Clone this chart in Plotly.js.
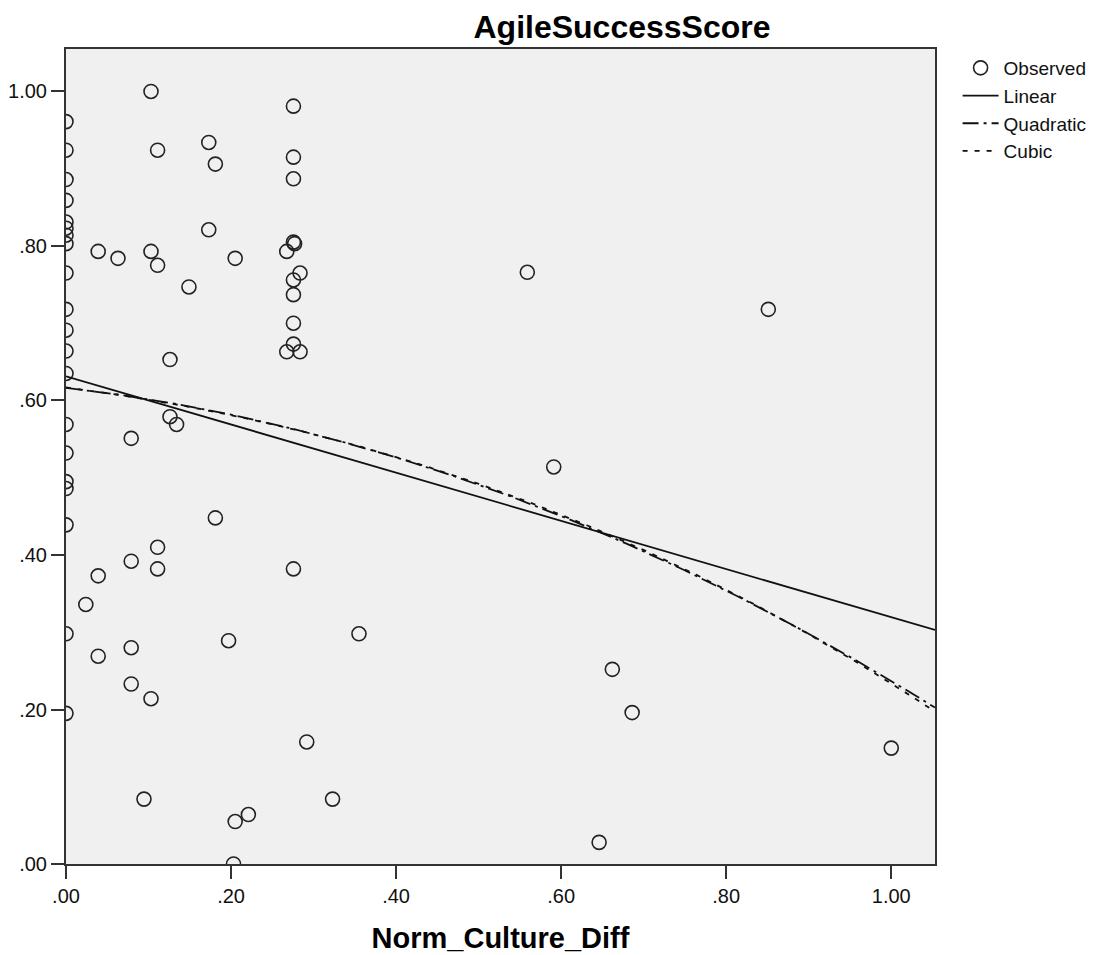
<!DOCTYPE html>
<html>
<head>
<meta charset="utf-8">
<script src="https://cdn.plot.ly/plotly-3.0.1.min.js"></script>
<style>
  html, body { margin: 0; padding: 0; background: #ffffff; }
  #chart { width: 1105px; height: 955px; }
</style>
</head>
<body>
<div id="chart"></div>
<script>
// Observed data: Norm_Culture_Diff (x) vs AgileSuccessScore (y)
const normCultureDiff = [
  0, 0, 0, 0, 0, 0, 0, 0, 0, 0, 0, 0, 0, 0, 0, 0, 0, 0, 0, 0,
  0.024, 0.039, 0.039, 0.039, 0.063, 0.079, 0.079, 0.079, 0.079, 0.0945,
  0.103, 0.103, 0.103, 0.111, 0.111, 0.111, 0.111, 0.126, 0.126, 0.134,
  0.149, 0.173, 0.173, 0.181, 0.181, 0.197, 0.205, 0.205, 0.203, 0.221,
  0.2675, 0.2675, 0.2756, 0.2756, 0.2756, 0.2756, 0.2770, 0.2756, 0.2756, 0.2756,
  0.2756, 0.2756, 0.2836, 0.2836, 0.2917, 0.323, 0.355,
  0.559, 0.591, 0.646, 0.662, 0.686, 0.851, 1.000
];
const agileSuccessScore = [
  0.961, 0.924, 0.886, 0.859, 0.831, 0.823, 0.814, 0.803, 0.765, 0.718,
  0.691, 0.664, 0.635, 0.569, 0.532, 0.495, 0.486, 0.439, 0.298, 0.195,
  0.336, 0.793, 0.373, 0.269, 0.784, 0.551, 0.392, 0.280, 0.233, 0.084,
  1.000, 0.793, 0.214, 0.924, 0.775, 0.410, 0.382, 0.653, 0.579, 0.569,
  0.747, 0.934, 0.821, 0.906, 0.448, 0.289, 0.784, 0.055, 0.000, 0.064,
  0.793, 0.663, 0.981, 0.915, 0.887, 0.805, 0.803, 0.756, 0.737, 0.700,
  0.673, 0.382, 0.765, 0.663, 0.158, 0.084, 0.298,
  0.766, 0.514, 0.028, 0.252, 0.196, 0.718, 0.150
];
const xTickVals = [0, 0.2, 0.4, 0.6, 0.8, 1.0];
const xTickText = [".00", ".20", ".40", ".60", ".80", "1.00"];
const yTickVals = [0, 0.2, 0.4, 0.6, 0.8, 1.0];
const yTickText = [".00", ".20", ".40", ".60", ".80", "1.00"];
const seriesNames = ["Observed", "Linear", "Quadratic", "Cubic"];
const xRange = [0, 1.053];
const yRange = [0, 1.055];

// Least-squares polynomial fit (as the curve-estimation procedure does)
function polyFit(xs, ys, deg) {
  const n = deg + 1;
  const A = [];
  for (let i = 0; i < n; i++) {
    A.push(new Array(n + 1).fill(0));
  }
  for (let k = 0; k < xs.length; k++) {
    for (let i = 0; i < n; i++) {
      for (let j = 0; j < n; j++) A[i][j] += Math.pow(xs[k], i + j);
      A[i][n] += ys[k] * Math.pow(xs[k], i);
    }
  }
  for (let c = 0; c < n; c++) {
    let p = c;
    for (let r = c + 1; r < n; r++) if (Math.abs(A[r][c]) > Math.abs(A[p][c])) p = r;
    [A[c], A[p]] = [A[p], A[c]];
    for (let r = 0; r < n; r++) {
      if (r === c) continue;
      const f = A[r][c] / A[c][c];
      for (let j = c; j <= n; j++) A[r][j] -= f * A[c][j];
    }
  }
  return A.map((row, i) => row[n] / row[i]);
}
function evalPoly(coef, x) {
  return coef.reduce((s, c, i) => s + c * Math.pow(x, i), 0);
}
const grid = [];
for (let i = 0; i <= 200; i++) grid.push(xRange[0] + (xRange[1] - xRange[0]) * i / 200);
const fits = [1, 2, 3].map(d => {
  const c = polyFit(normCultureDiff, agileSuccessScore, d);
  return grid.map(x => evalPoly(c, x));
});

const font = "Liberation Sans, Arial, sans-serif";
const traces = [
  {
    type: "scatter", mode: "markers", name: seriesNames[0],
    x: normCultureDiff, y: agileSuccessScore,
    marker: { symbol: "circle-open", size: 14, color: "#222", line: { width: 1.6, color: "#222" } },
    cliponaxis: true
  },
  {
    type: "scatter", mode: "lines", name: seriesNames[1], x: grid, y: fits[0],
    line: { color: "#111", width: 1.8, dash: "solid" }
  },
  {
    type: "scatter", mode: "lines", name: seriesNames[2], x: grid, y: fits[1],
    line: { color: "#111", width: 1.8, dash: "16px,5px,3px,5px" }
  },
  {
    type: "scatter", mode: "lines", name: seriesNames[3], x: grid, y: fits[2],
    line: { color: "#111", width: 1.8, dash: "5px,7px" }
  }
];

const layout = {
  width: 1105, height: 955,
  margin: { l: 66, r: 170, t: 49, b: 91, autoexpand: false },
  paper_bgcolor: "#ffffff",
  plot_bgcolor: "#f0f0f0",
  font: { family: font, color: "#111", size: 20 },
  title: {
    text: "<b>AgileSuccessScore</b>",
    font: { family: font, size: 32, color: "#000" },
    x: 622 / 1105, xref: "container", xanchor: "center",
    y: 1 - 27 / 955, yref: "container", yanchor: "middle"
  },
  xaxis: {
    range: xRange, tickvals: xTickVals, ticktext: xTickText,
    showgrid: false, zeroline: false,
    showline: true, linecolor: "#333", linewidth: 2, mirror: true,
    ticks: "outside", ticklen: 13, tickwidth: 2, tickcolor: "#333",
    tickfont: { family: font, size: 20, color: "#111" },
    title: { text: "<b>Norm_Culture_Diff</b>", font: { family: font, size: 29, color: "#000" }, standoff: 22 }
  },
  yaxis: {
    range: yRange, tickvals: yTickVals, ticktext: yTickText,
    showgrid: false, zeroline: false,
    showline: true, linecolor: "#333", linewidth: 2, mirror: true,
    ticks: "outside", ticklen: 13, tickwidth: 2, tickcolor: "#333",
    tickfont: { family: font, size: 20, color: "#111" }
  },
  showlegend: true,
  legend: {
    x: 1.026, xanchor: "left", y: 1.0, yanchor: "top",
    bgcolor: "rgba(0,0,0,0)", borderwidth: 0,
    font: { family: font, size: 19, color: "#111" },
    tracegroupgap: 0, itemwidth: 36
  }
};

Plotly.newPlot("chart", traces, layout, { displayModeBar: false, responsive: false });
</script>
</body>
</html>
